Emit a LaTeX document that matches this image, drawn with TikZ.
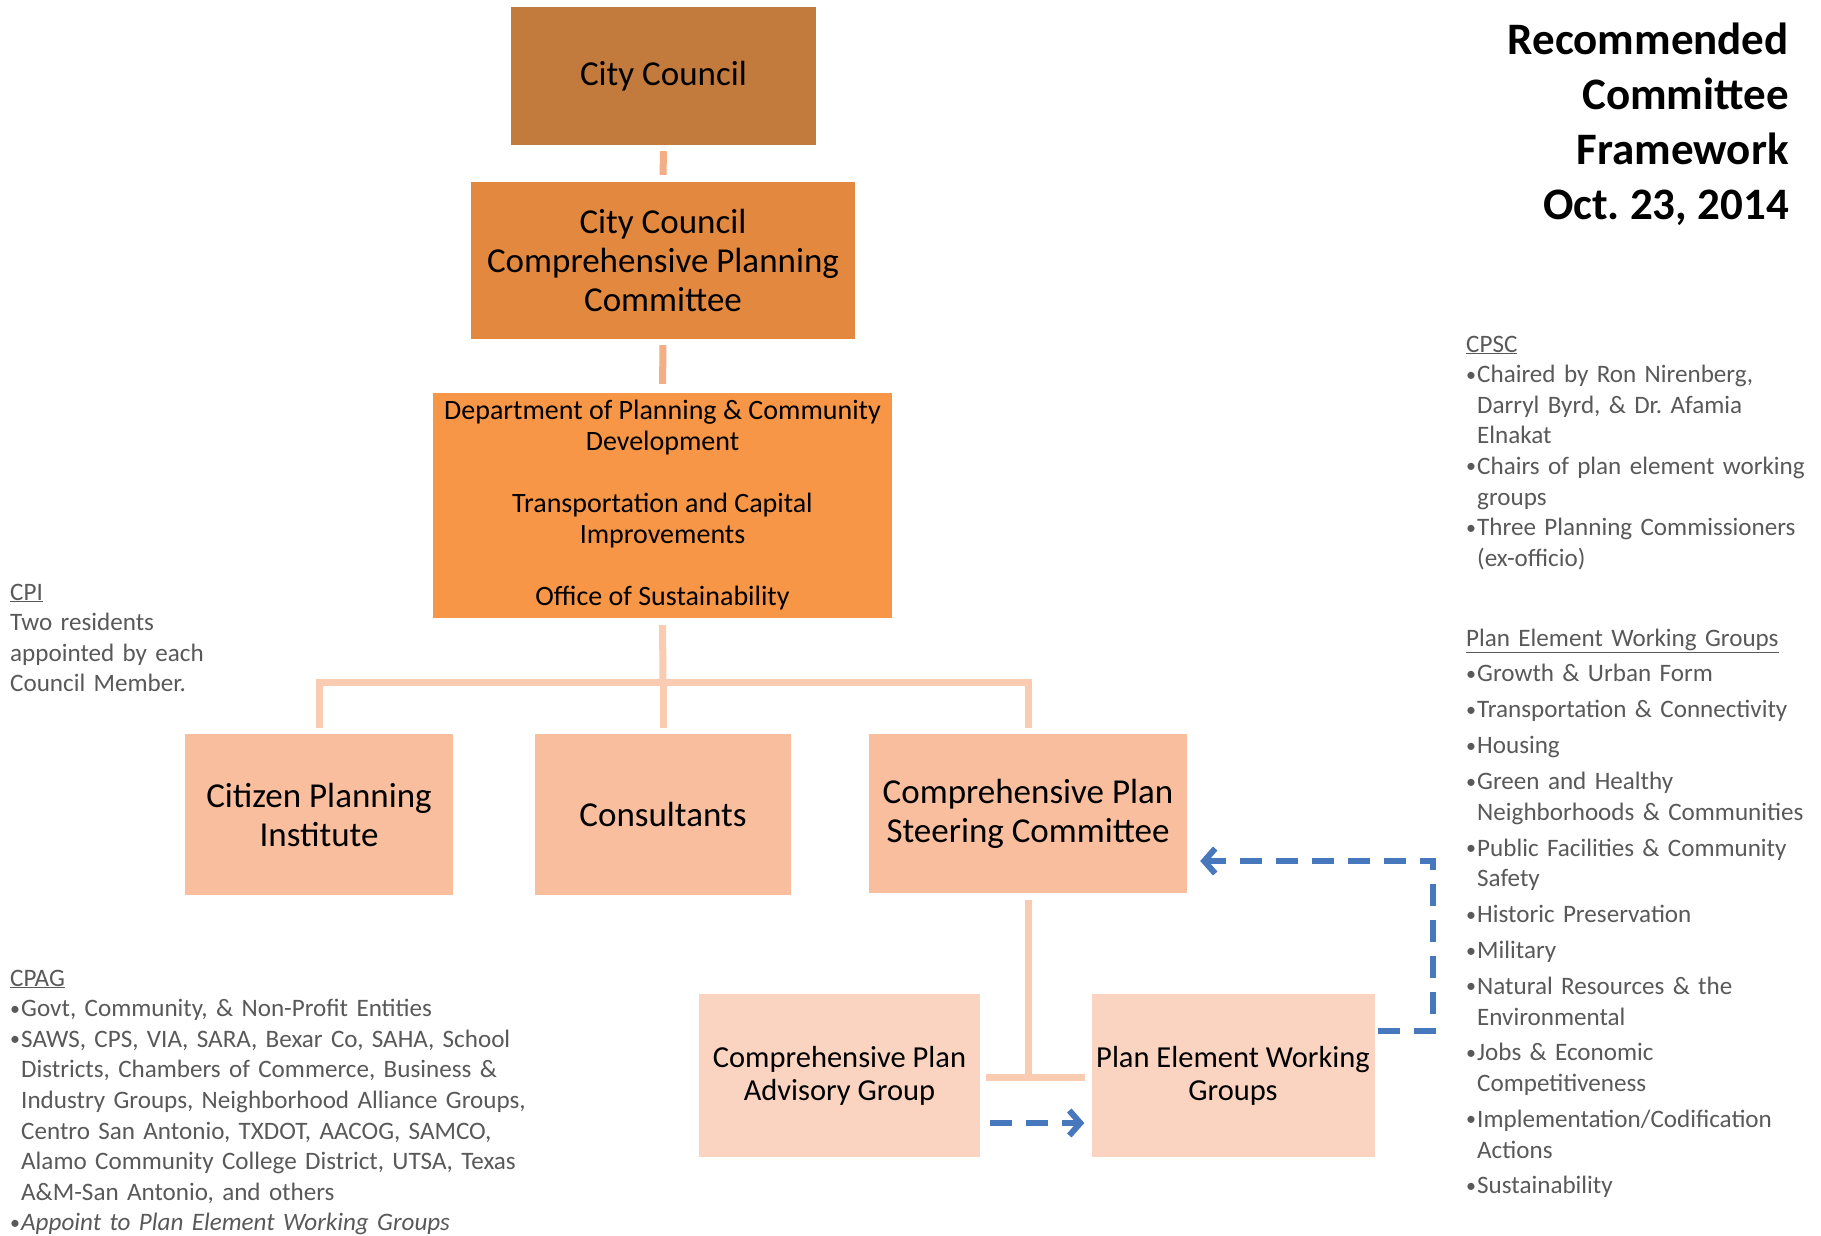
\documentclass[tikz,border=0pt]{standalone}
\usepackage{fontspec}
\usepackage{graphicx}
\setmainfont{Carlito}
\usetikzlibrary{arrows.meta}
\definecolor{ccfill}{HTML}{C27A3D}
\definecolor{cpfill}{HTML}{E2893F}
\definecolor{deptfill}{HTML}{F79646}
\definecolor{midfill}{HTML}{F8BE9E}
\definecolor{lowfill}{HTML}{FAD4C0}
\definecolor{connA}{HTML}{F3AE85}
\definecolor{connB}{HTML}{F9CBB0}
\definecolor{flowblue}{HTML}{4777BD}
\definecolor{sidegray}{HTML}{595959}
\newlength\bw
\setlength\bw{11pt}
\newcommand\bitem{\par\hangindent=\bw\hangafter=1\makebox[\bw][l]{\raisebox{1.5pt}{\fontsize{20}{20}\selectfont •}}}
\tikzset{
  orgbox/.style={rectangle, inner sep=0pt, align=center, text=black},
  bigtext/.style={font=\fontsize{35}{39}\selectfont},
  smalltext/.style={font=\fontsize{30.5}{33}\selectfont},
  deptext/.style={font=\fontsize{28}{31}\selectfont},
  connup/.style={draw=connA, line width=7pt},
  conndown/.style={draw=connB, line width=7pt},
  flow/.style={draw=flowblue, line width=5.5pt, dash pattern=on 22pt off 14pt,
    -{Straight Barb[length=11pt,width=25pt,line width=6pt]}},
  sidenote/.style={inner sep=0pt, anchor=base west, text width=420pt, align=left,
    text=sidegray, font=\fontsize{25.1}{30.6}\selectfont}
}
\begin{document}
\frenchspacing
\begin{tikzpicture}[x=1pt,y=-1pt]
\fill[white] (0,0) rectangle (1821,1235);
\useasboundingbox (0,0) rectangle (1821,1235);

% title
\node[inner sep=0pt, anchor=base east, align=right, font=\fontsize{45}{55}\selectfont\bfseries] (title) at (1789,219)
  {Recommended\\Committee\\Framework\\Oct. 23, 2014};

% boxes
\node[orgbox, bigtext, fill=ccfill, minimum width=305pt, minimum height=138pt] (cc) at (663.5,76) {City Council};
\node[orgbox, bigtext, fill=cpfill, minimum width=384pt, minimum height=157pt] (cccpc) at (663,260.5)
  {City Council\\Comprehensive Planning\\Committee};
\node[orgbox, deptext, fill=deptfill, minimum width=459pt, minimum height=225pt] (dept) at (662.5,505.5)
  {Department of Planning \& Community\\Development\\[31pt]Transportation and Capital\\Improvements\\[31pt]Office of Sustainability};
\node[orgbox, bigtext, fill=midfill, minimum width=268pt, minimum height=161pt] (cpi) at (319,814.5)
  {Citizen Planning\\Institute};
\node[orgbox, bigtext, fill=midfill, minimum width=256pt, minimum height=161pt] (cons) at (663,814.5)
  {Consultants};
\node[orgbox, bigtext, fill=midfill, minimum width=318pt, minimum height=159pt] (cpsc) at (1028,813.5)
  {Comprehensive Plan\\Steering Committee};
\node[orgbox, smalltext, fill=lowfill, minimum width=281pt, minimum height=163pt] (cpag) at (839.5,1075.5)
  {Comprehensive Plan\\Advisory Group};
\node[orgbox, smalltext, fill=lowfill, minimum width=283pt, minimum height=163pt] (pewg) at (1233,1075.5)
  {Plan Element Working\\Groups};

\coordinate (bus) at (663,682);
\coordinate (tee) at (1028,1077);
\coordinate (fb) at (1433,950);

% connectors
\draw[connup, shorten <=6pt, shorten >=7pt] (cc.south) -- (cccpc.north);
\draw[connup, shorten <=6pt, shorten >=9pt] (cccpc.south) -- (dept.north);
\draw[conndown, shorten <=7pt] (dept.south) -- (bus);
\draw[conndown, shorten <=6pt, shorten >=6pt] (cpi.north) -- (cpi.north |- bus) -- (cpsc.north |- bus) -- (cpsc.north);
\draw[conndown, shorten >=6pt] (bus) -- (cons.north);
\draw[conndown, shorten <=7pt] (cpsc.south) -- (tee);
\draw[conndown, shorten <=6pt, shorten >=6pt] (cpag.east |- tee) -- (pewg.west |- tee);

% dashed flows
\draw[flow, shorten <=10pt, shorten >=7pt] ([yshift=-47.5pt]cpag.east) -- ([yshift=-47.5pt]pewg.west);
\draw[flow, shorten <=3pt, shorten >=13pt] ([yshift=44.5pt]pewg.east) -| (fb) |- ([yshift=-47.5pt]cpsc.east);

% side notes
\node[sidenote] (cpinote) at (10,600)
  {\underline{CPI}\par Two residents\par appointed by each\par Council Member.\par};
\node[sidenote, text width=620pt] (cpagnote) at (10,986)
  {\underline{CPAG}\bitem Govt, Community, \& Non-Profit Entities\bitem SAWS, CPS, VIA, SARA, Bexar Co, SAHA, School\newline Districts, Chambers of Commerce, Business \&\newline Industry Groups, Neighborhood Alliance Groups,\newline Centro San Antonio, TXDOT, AACOG, SAMCO,\newline Alamo Community College District, UTSA, Texas\newline A\&M-San Antonio, and others\bitem \textit{Appoint to Plan Element Working Groups}\par};
\node[sidenote] (cpscnote) at (1466,352)
  {\underline{CPSC}\bitem Chaired by Ron Nirenberg,\newline Darryl Byrd, \& Dr. Afamia\newline Elnakat\bitem Chairs of plan element working\newline groups\bitem Three Planning Commissioners\newline (ex-officio)\par};
\node[sidenote] (pewgnote) at (1466,646)
  {\setlength{\parskip}{5.3pt}\underline{Plan Element Working Groups}\bitem Growth \& Urban Form\bitem Transportation \& Connectivity\bitem Housing\bitem Green and Healthy\newline Neighborhoods \& Communities\bitem Public Facilities \& Community\newline Safety\bitem Historic Preservation\bitem Military\bitem Natural Resources \& the\newline Environmental\bitem Jobs \& Economic\newline Competitiveness\bitem Implementation/Codification\newline Actions\bitem Sustainability\par};
\end{tikzpicture}
\end{document}
